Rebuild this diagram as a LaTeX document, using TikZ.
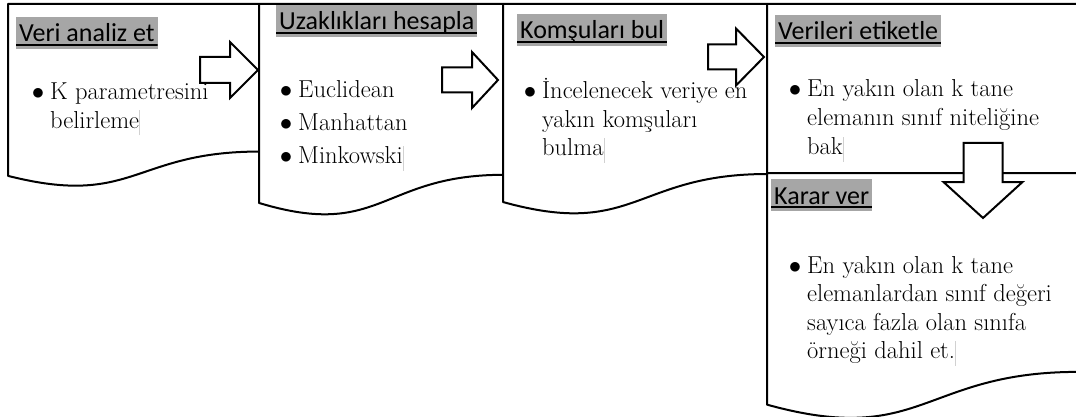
\documentclass[tikz,border=0pt]{standalone}
\usepackage{fontspec}
\newfontfamily\titlefont{Carlito}
\usetikzlibrary{calc}

% document shape with a wavy bottom: x, y (top left), width, height
\newcommand{\docshape}[4]{%
  \filldraw[docbox] (#1,#2) -- ({#1+#3},#2) -- ({#1+#3},{#2+0.802*#4})
    .. controls ({#1+0.5*#3},{#2+0.802*#4}) and ({#1+0.5*#3},{#2+1.1075*#4}) .. (#1,{#2+0.934*#4}) -- cycle;}

% block arrows: tip, length, head length, half shaft, half head
\newcommand{\rightblock}[5]{%
  \filldraw[blockarrow] ($(#1)+(-#2,-#4)$) -- ($(#1)+(-#3,-#4)$) -- ($(#1)+(-#3,-#5)$) -- (#1)
    -- ($(#1)+(-#3,#5)$) -- ($(#1)+(-#3,#4)$) -- ($(#1)+(-#2,#4)$) -- cycle;}
\newcommand{\downblock}[5]{%
  \filldraw[blockarrow] ($(#1)+(-#4,-#2)$) -- ($(#1)+(#4,-#2)$) -- ($(#1)+(#4,-#3)$) -- ($(#1)+(#5,-#3)$)
    -- (#1) -- ($(#1)+(-#5,-#3)$) -- ($(#1)+(-#4,-#3)$) -- cycle;}

\newcommand{\cursorbar}{\textcolor{black!18}{\rule[-7pt]{0.6pt}{25pt}}}
\newcommand{\bul}{\llap{$\bullet$\hspace{6pt}}}

\begin{document}
\begin{tikzpicture}[x=1pt, y=-1pt,
    docbox/.style={draw=black, fill=white, line width=2pt, line join=round},
    blockarrow/.style={draw=black, fill=white, line width=2pt, line join=miter},
    ttl/.style={fill=titleGrey, inner xsep=3pt, inner ysep=2pt, text height=23pt, text depth=5pt,
      font=\titlefont\fontsize{26}{30}\selectfont, anchor=base west,
      path picture={\draw[line width=1.8pt]
        ([yshift=4pt]path picture bounding box.south west) -- ([yshift=4pt]path picture bounding box.south east);}},
    bodytxt/.style={inner sep=0pt, anchor=base west, font=\fontsize{24.5}{28.5}\selectfont}]
    % Define colours
    \definecolor{titleGrey}{HTML}{A6A6A6}

  \useasboundingbox (0,0) rectangle (1076,417);

  % Draw the five steps
  \docshape{8}{4}{251}{184}
  \docshape{259}{4}{244}{213}
  \docshape{503}{4}{264}{212}
  \docshape{767}{4}{311}{225}
  \docshape{767}{173}{311}{248}

  % Arrow tips
  \coordinate (tipA) at (258,70);
  \coordinate (tipB) at (498,80);
  \coordinate (tipC) at (764,57);
  \coordinate (tipD) at (983,218);

  % Draw the arrows
  \rightblock{tipA}{58}{28}{13}{28}
  \rightblock{tipB}{56}{26}{12.5}{28}
  \rightblock{tipC}{56}{28}{12.5}{28.5}
  \downblock{tipD}{75}{36}{19.5}{39.5}

  % Titles
  \node[ttl] (analiz) at (16,42) {Veri analiz et};
  \node[ttl] (uzaklik) at (276,30) {Uzaklıkları hesapla};
  \node[ttl] (komsu) at (517,39) {Komşuları bul};
  \node[ttl] (etiket) at (775,40) {Verileri etiketle};
  \node[ttl] (karar) at (771,204) {Karar ver};

  % Step texts
  \node[bodytxt] (analizText) at (50,100) {\begin{tabular}[t]{@{}l@{}}
    \bul K parametresini\\ belirleme\cursorbar\end{tabular}};
  \node[bodytxt, font=\fontsize{24.5}{33}\selectfont] (uzaklikText) at (298,98) {\begin{tabular}[t]{@{}l@{}}
    \bul Euclidean\\ \bul Manhattan\\ \bul Minkowski\cursorbar\end{tabular}};
  \node[bodytxt] (komsuText) at (542,99) {\begin{tabular}[t]{@{}l@{}}
    \bul İncelenecek veriye en\\ yakın komşuları\\ bulma\cursorbar\end{tabular}};
  \node[bodytxt, font=\fontsize{24.5}{29}\selectfont] (etiketText) at (807,97) {\begin{tabular}[t]{@{}l@{}}
    \bul En yakın olan k tane\\ elemanın sınıf niteliğine\\ bak\cursorbar\end{tabular}};
  \node[bodytxt] (kararText) at (807,273) {\begin{tabular}[t]{@{}l@{}}
    \bul En yakın olan k tane\\ elemanlardan sınıf değeri\\ sayıca fazla olan sınıfa\\
    örneği dahil et.\cursorbar\end{tabular}};

\end{tikzpicture}
\end{document}
